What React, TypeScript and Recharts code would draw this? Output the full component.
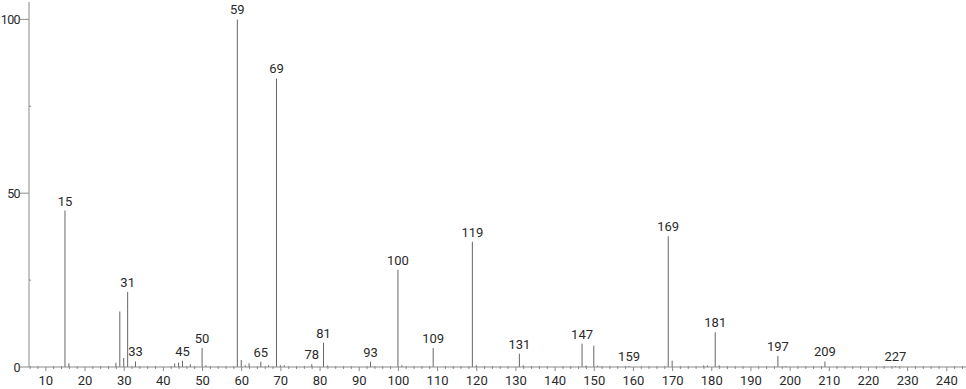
import React from "react";
import { BarChart, Bar, XAxis, YAxis, LabelList } from "recharts";

// m/z values and relative intensities
const MZ: number[] = [
  15, 16, 28, 29, 30, 31, 33, 43, 44, 45, 47, 50, 51, 59, 60, 61, 62, 65, 67,
  69, 70, 71, 78, 81, 82, 93, 100, 101, 109, 119, 120, 131, 132, 147, 148, 150,
  151, 159, 169, 170, 178, 179, 181, 182, 197, 199, 209, 227,
];
const INTENSITY: number[] = [
  45, 1.1, 1.2, 16, 2.6, 21.6, 1.6, 1.0, 1.3, 1.8, 0.8, 5.5, 0.5, 100, 2.0, 0.5,
  1.1, 1.5, 0.5, 83, 0.5, 0.5, 0.8, 7, 0.4, 1.5, 28, 0.5, 5.5, 36, 0.5, 3.8, 0.5,
  6.7, 0.4, 6.1, 0.4, 0.3, 37.6, 1.8, 0.4, 0.4, 10, 0.5, 3.2, 0.3, 1.6, 0.3,
];
const LABELED: number[] = [
  15, 31, 33, 45, 50, 59, 65, 69, 78, 81, 93, 100, 109, 119, 131, 147, 159, 169,
  181, 197, 209, 227,
];
const X_TICKS: number[] = Array.from({ length: 120 }, (_, i) => 6 + i * 2);
const Y_TICKS: number[] = [0, 25, 50, 75, 100];

const data = MZ.map((mz, i) => ({
  mz,
  intensity: INTENSITY[i],
  label: LABELED.includes(mz) ? String(mz) : "",
}));

const FONT = "Roboto, sans-serif";
const AXIS = "#8a8a8a";
const TEXT = "#2a2a2a";

const XTick = (props: any) => {
  const { x, y, payload } = props;
  const v = payload.value as number;
  const major = v % 10 === 0;
  return (
    <g>
      <line x1={x} x2={x} y1={y - (major ? 0 : 1)} y2={y + (major ? 4 : 2)} stroke={AXIS} />
      {major && (
        <text x={x} y={y + 18} textAnchor="middle" fontSize={13} fontFamily={FONT} fill={TEXT}>
          {v}
        </text>
      )}
    </g>
  );
};

const YTick = (props: any) => {
  const { x, y, payload } = props;
  const v = payload.value as number;
  const major = v % 50 === 0;
  if (!major) {
    return <line x1={x} x2={x + 2} y1={y} y2={y} stroke={AXIS} />;
  }
  return (
    <g>
      <line x1={x - 9} x2={x} y1={y} y2={y} stroke={AXIS} />
      <text
        x={x - 9}
        y={y + 5}
        textAnchor="end"
        fontSize={12.5}
        letterSpacing={-0.6}
        fontFamily={FONT}
        fill={TEXT}
      >
        {v}
      </text>
    </g>
  );
};

const PeakLabel = (props: any) => {
  const { x, y, width, value } = props;
  if (!value) return null;
  return (
    <text x={x + width / 2} y={y - 5} textAnchor="middle" fontSize={13} fontFamily={FONT} fill={TEXT}>
      {value}
    </text>
  );
};

export default function App() {
  return (
    <div style={{ position: "absolute", left: 0, top: 0, width: 966, height: 389, background: "#fff" }}>
      <BarChart width={966} height={389} data={data} margin={{ top: 2, right: 0, bottom: 0, left: 0 }}>
        <XAxis
          dataKey="mz"
          type="number"
          domain={[5.7, 244.9]}
          ticks={X_TICKS}
          interval={0}
          allowDataOverflow
          height={22}
          stroke={AXIS}
          tickLine={false}
          tickSize={0}
          tickMargin={0}
          tick={<XTick />}
        />
        <YAxis
          type="number"
          domain={[0, 105]}
          ticks={Y_TICKS}
          interval={0}
          width={29}
          stroke={AXIS}
          tickLine={false}
          tickSize={0}
          tickMargin={0}
          tick={<YTick />}
        />
        <Bar dataKey="intensity" fill="#666" barSize={1} isAnimationActive={false}>
          <LabelList dataKey="label" content={<PeakLabel />} />
        </Bar>
      </BarChart>
    </div>
  );
}
